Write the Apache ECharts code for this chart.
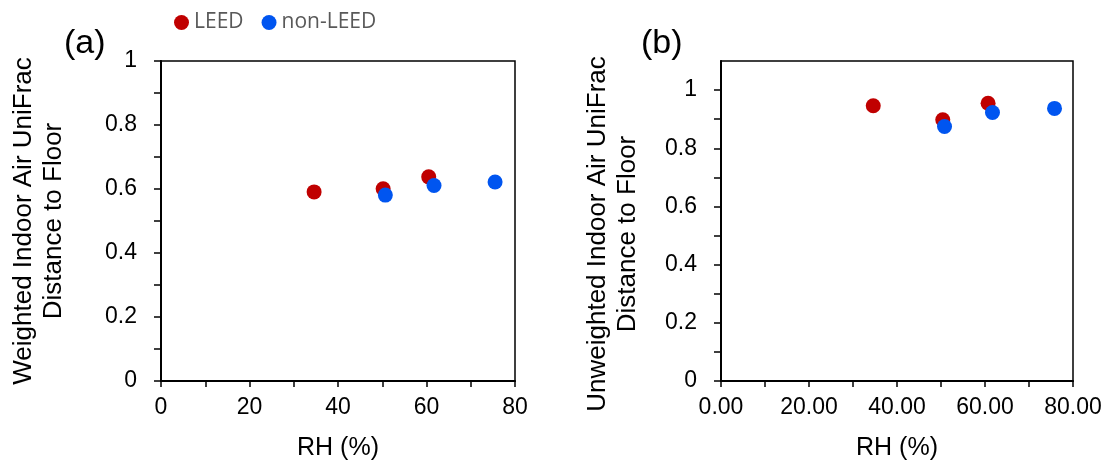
<!DOCTYPE html>
<html style="height: 100%">
<head>
<meta charset="utf-8">
<script src="https://cdn.jsdelivr.net/npm/echarts@6/dist/echarts.min.js"></script>
</head>
<body style="height: 100%; margin: 0; background: #fff">
<div id="container" style="width: 1111px; height: 466px"></div>
<script>
// RH (%) and UniFrac distance
var leedRH = [34.6, 50.2, 60.5];
var nonLeedRH = [50.7, 61.7, 75.5];
var leedWeighted = [0.591, 0.601, 0.638];
var nonLeedWeighted = [0.581, 0.611, 0.622];

var leedRHb = [34.6, 50.4, 60.7];
var nonLeedRHb = [50.8, 61.7, 75.8];
var leedUnweighted = [0.946, 0.898, 0.955];
var nonLeedUnweighted = [0.875, 0.923, 0.937];

var RED = '#C00000';
var BLUE = '#0055F0';

function pairs(xs, ys) {
    return xs.map(function (x, i) { return [x, ys[i]]; });
}

var dom = document.getElementById('container');
var myChart = echarts.init(dom);

var labelFont = { fontFamily: 'Liberation Sans', fontSize: 23, color: '#000' };

function xAxisFor(idx, fmt) {
    return {
        gridIndex: idx, type: 'value', min: 0, max: 80, interval: 10,
        name: 'RH (%)', nameLocation: 'middle', nameGap: 55,
        nameTextStyle: { fontFamily: 'Liberation Sans', fontSize: 25, color: '#000' },
        axisLine: { onZero: false, lineStyle: { color: '#000', width: 2 } },
        axisTick: { length: 6, lineStyle: { color: '#000', width: 1.5 } },
        splitLine: { show: false },
        axisLabel: Object.assign({
            margin: 15,
            formatter: function (v) {
                return Math.round(v) % 20 === 0 ? fmt(v) : '';
            }
        }, labelFont)
    };
}

function yAxisFor(idx, name, max, gap, pad) {
    return {
        gridIndex: idx, type: 'value', min: 0, max: max, interval: 0.1,
        name: name, nameLocation: 'middle', nameGap: gap,
        nameTextStyle: { fontFamily: 'Liberation Sans', fontSize: 26, color: '#000', lineHeight: 30, padding: pad },
        axisLine: { onZero: false, lineStyle: { color: '#000', width: 2 } },
        axisTick: { length: 7, lineStyle: { color: '#000', width: 1.5 } },
        splitLine: { show: false },
        axisLabel: Object.assign({
            margin: 24,
            showMaxLabel: max <= 1,
            formatter: function (v) {
                var t = Math.round(v * 10);
                if (t % 2 !== 0 || t > 10) return '';
                return String(t / 10);
            }
        }, labelFont)
    };
}

option = {
    animation: false,
    legend: {
        data: ['LEED', 'non-LEED'],
        left: 174, top: 12, padding: 0,
        icon: 'circle', itemWidth: 15, itemHeight: 15, itemGap: 18,
        textStyle: { fontFamily: 'Open Sans', fontSize: 21, color: '#595959' }
    },
    graphic: [
        { type: 'text', left: 64, top: 27, style: { text: '(a)', font: '34px "Liberation Sans"', fill: '#000' } },
        { type: 'text', left: 641, top: 27, style: { text: '(b)', font: '34px "Liberation Sans"', fill: '#000' } }
    ],
    grid: [
        { left: 161, right: 596, top: 61, bottom: 83, show: true, borderColor: '#000', borderWidth: 1.5, backgroundColor: 'transparent' },
        { left: 721, right: 38, top: 61, bottom: 83, show: true, borderColor: '#000', borderWidth: 1.5, backgroundColor: 'transparent' }
    ],
    xAxis: [
        xAxisFor(0, function (v) { return String(v); }),
        xAxisFor(1, function (v) { return v.toFixed(2); })
    ],
    yAxis: [
        yAxisFor(0, 'Weighted Indoor Air UniFrac\nDistance to Floor', 1, 92, 0),
        yAxisFor(1, 'Unweighted Indoor Air UniFrac\nDistance to Floor', 1.1, 78, [0, 26, 0, 0])
    ],
    series: [
        { name: 'LEED', type: 'scatter', xAxisIndex: 0, yAxisIndex: 0, symbolSize: 15,
          itemStyle: { color: RED, opacity: 1 }, data: pairs(leedRH, leedWeighted) },
        { name: 'non-LEED', type: 'scatter', xAxisIndex: 0, yAxisIndex: 0, symbolSize: 15,
          itemStyle: { color: BLUE, opacity: 1 }, data: pairs(nonLeedRH, nonLeedWeighted) },
        { name: 'LEED', type: 'scatter', xAxisIndex: 1, yAxisIndex: 1, symbolSize: 15,
          itemStyle: { color: RED, opacity: 1 }, data: pairs(leedRHb, leedUnweighted) },
        { name: 'non-LEED', type: 'scatter', xAxisIndex: 1, yAxisIndex: 1, symbolSize: 15,
          itemStyle: { color: BLUE, opacity: 1 }, data: pairs(nonLeedRHb, nonLeedUnweighted) }
    ]
};

myChart.setOption(option);
</script>
</body>
</html>
